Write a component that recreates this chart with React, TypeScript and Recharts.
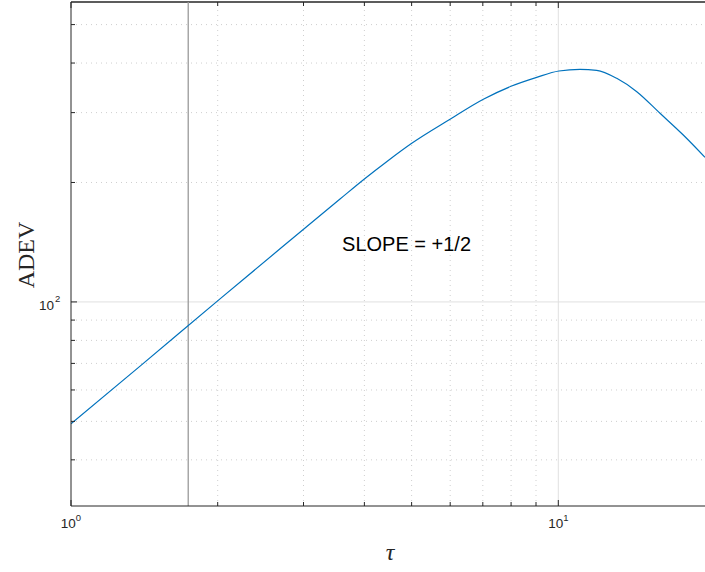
import {
  LineChart,
  Line,
  XAxis,
  YAxis,
  ReferenceLine,
  ReferenceDot,
} from 'recharts';

// Allan deviation curve (tau, ADEV)
const tau = [
  1, 1.386, 2.022, 2.685, 3.565, 4.012, 4.444, 5.003, 5.996, 7.017, 8.023, 9.03,
  10.03, 11.08, 11.99, 13.18, 14.49, 16.17, 18.05, 20,
];
const adev = [
  49.3, 68.9, 101.8, 136.1, 181.7, 204.7, 225.6, 251, 288.6, 324.1, 350, 368.1,
  381.9, 385.6, 383.4, 366, 338.7, 298.8, 263.4, 231.4,
];

const xTicks = [1, 2, 3, 4, 5, 6, 7, 8, 9, 10];
const yTicks = [40, 50, 60, 70, 80, 90, 100, 200, 300, 400, 500];
const xMinor = [2, 3, 4, 5, 6, 7, 8, 9];
const yMinor = [40, 50, 60, 70, 80, 90, 200, 300, 400, 500];
const xMajor = [10];
const yMajor = [100];
const xDecades: Record<number, string> = { 1: '0', 10: '1' };
const yDecades: Record<number, string> = { 100: '2' };
const xDomain = [1, 20];
const yDomain = [30.6, 570];
const markerTau = 1.74;
const slopeLabel = { tau: 3.6, adev: 141, text: 'SLOPE = +1/2' };

const data = tau.map((t, i) => ({ tau: t, adev: adev[i] }));

const PLOT_TOP = 2;
const axisColor = '#262626';
const sans = '"Liberation Sans", Arial, Helvetica, sans-serif';
const serif = '"Liberation Serif", "Times New Roman", serif';

// bottom ticks point inward; the matching box ticks along the top are drawn here too
function BottomTick(props: any) {
  const { x, y, payload } = props;
  const exp = xDecades[payload.value];
  const len = exp ? 6 : 4;
  return (
    <g>
      <line x1={x} x2={x} y1={y} y2={y - len} stroke={axisColor} strokeWidth={1} />
      <line x1={x} x2={x} y1={PLOT_TOP} y2={PLOT_TOP + len} stroke={axisColor} strokeWidth={1} />
      {exp && (
        <text x={x} y={y + 22} textAnchor="middle" fontFamily={sans} fontSize={13.5} fill={axisColor}>
          10
          <tspan dy={-7} fontSize={9.5}>
            {exp}
          </tspan>
        </text>
      )}
    </g>
  );
}

function LeftTick(props: any) {
  const { x, y, payload } = props;
  const exp = yDecades[payload.value];
  return (
    <g>
      <line x1={x} x2={x + (exp ? 6 : 4)} y1={y} y2={y} stroke={axisColor} strokeWidth={1} />
      {exp && (
        <text x={x - 17} y={y + 8} textAnchor="end" fontFamily={sans} fontSize={13.5} fill={axisColor}>
          10
        </text>
      )}
      {exp && (
        <text x={x - 16} y={y} textAnchor="start" fontFamily={sans} fontSize={9.5} fill={axisColor}>
          {exp}
        </text>
      )}
    </g>
  );
}

export default function App() {
  return (
    <div style={{ position: 'absolute', left: 0, top: 0, width: 705, height: 572, background: '#fff' }}>
      <LineChart
        width={705}
        height={572}
        data={data}
        margin={{ top: PLOT_TOP, right: 0, bottom: 0, left: 0 }}
      >
        <XAxis
          dataKey="tau"
          type="number"
          scale="log"
          domain={xDomain}
          allowDataOverflow
          ticks={xTicks}
          interval={0}
          height={66}
          tickSize={0}
          tickMargin={0}
          tickLine={false}
          axisLine={{ stroke: axisColor, strokeWidth: 1 }}
          tick={<BottomTick />}
        />
        <YAxis
          type="number"
          scale="log"
          domain={yDomain}
          allowDataOverflow
          ticks={yTicks}
          interval={0}
          width={71}
          tickSize={0}
          tickMargin={0}
          tickLine={false}
          axisLine={{ stroke: axisColor, strokeWidth: 1 }}
          tick={<LeftTick />}
        />
        {xMinor.map((v) => (
          <ReferenceLine key={`xm${v}`} x={v} stroke="#cfcfcf" strokeDasharray="1 4" strokeWidth={1} />
        ))}
        {yMinor.map((v) => (
          <ReferenceLine key={`ym${v}`} y={v} stroke="#cfcfcf" strokeDasharray="1 4" strokeWidth={1} />
        ))}
        {xMajor.map((v) => (
          <ReferenceLine key={`xM${v}`} x={v} stroke="#e0e0e0" strokeWidth={1} />
        ))}
        {yMajor.map((v) => (
          <ReferenceLine key={`yM${v}`} y={v} stroke="#e0e0e0" strokeWidth={1} />
        ))}
        <ReferenceLine y={yDomain[1]} stroke={axisColor} strokeWidth={1.5} ifOverflow="visible" />
        <ReferenceLine x={markerTau} stroke="#9a9a9a" strokeWidth={1.3} />
        <Line
          type="monotone"
          dataKey="adev"
          stroke="#0072BD"
          strokeWidth={1.2}
          dot={false}
          isAnimationActive={false}
        />
        <ReferenceDot
          x={slopeLabel.tau}
          y={slopeLabel.adev}
          r={0}
          shape={(p: any) => (
            <text x={p.cx} y={p.cy + 8} fontFamily={sans} fontSize={20} fill="#000">
              {slopeLabel.text}
            </text>
          )}
        />
        <text
          x={0}
          y={0}
          transform="translate(34 255) rotate(-90)"
          textAnchor="middle"
          fontFamily={serif}
          fontSize={24}
          fill={axisColor}
        >
          ADEV
        </text>
        <text x={390} y={560} textAnchor="middle" fontFamily={serif} fontStyle="italic" fontSize={24} fill={axisColor}>
          τ
        </text>
      </LineChart>
    </div>
  );
}
